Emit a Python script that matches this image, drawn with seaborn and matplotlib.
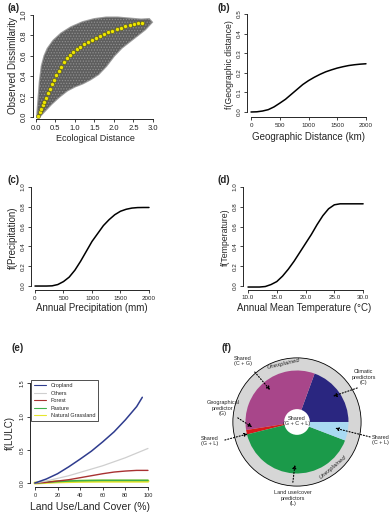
import numpy as np
import seaborn as sns
import matplotlib.pyplot as plt
from matplotlib.patches import Circle

# ---- data ----
# (a) extent of the observed point cloud, and the fitted (yellow) points
cloud_up_x = [0.03, 0.06, 0.10, 0.15, 0.22, 0.30, 0.45, 0.65, 0.90, 1.20, 1.50, 1.80, 2.10, 2.40, 2.70, 2.90, 2.97]
cloud_up_y = [0.00, 0.15, 0.35, 0.50, 0.60, 0.67, 0.75, 0.82, 0.88, 0.93, 0.96, 0.975, 0.975, 0.965, 0.955, 0.96, 0.93]
cloud_lo_x = [0.03, 0.08, 0.20, 0.40, 0.60, 0.80, 1.00, 1.20, 1.40, 1.60, 1.80, 2.00, 2.20, 2.40, 2.60, 2.80, 2.97]
cloud_lo_y = [0.00, 0.00, 0.05, 0.13, 0.20, 0.26, 0.30, 0.33, 0.37, 0.42, 0.50, 0.60, 0.68, 0.74, 0.80, 0.86, 0.93]
fit_x = [0.05, 0.09, 0.13, 0.17, 0.21, 0.25, 0.30, 0.35, 0.40, 0.46, 0.52, 0.58, 0.65, 0.72, 0.80, 0.88, 0.96,
         1.05, 1.14, 1.23, 1.33, 1.43, 1.53, 1.63, 1.74, 1.85, 1.96, 2.07, 2.18, 2.29, 2.40, 2.51, 2.62, 2.72]
fit_y = [0.01, 0.045, 0.08, 0.115, 0.15, 0.19, 0.235, 0.275, 0.32, 0.365, 0.41, 0.45, 0.495, 0.535, 0.575, 0.605, 0.635,
         0.665, 0.69, 0.715, 0.735, 0.755, 0.775, 0.795, 0.815, 0.83, 0.845, 0.86, 0.875, 0.89, 0.90, 0.91, 0.918, 0.925]

# (b) geographic distance
geo_km = list(range(0, 2001, 100))
geo_f = [0.000, 0.001, 0.005, 0.012, 0.026, 0.045, 0.065, 0.090, 0.115, 0.140, 0.160,
         0.177, 0.192, 0.205, 0.215, 0.224, 0.231, 0.237, 0.241, 0.244, 0.246]

# (c) precipitation
prec_mm = list(range(0, 2001, 100))
prec_f = [0.0, 0.0, 0.0, 0.002, 0.015, 0.045, 0.09, 0.16, 0.25, 0.35, 0.45,
          0.53, 0.61, 0.67, 0.72, 0.755, 0.775, 0.787, 0.792, 0.793, 0.793]

# (d) temperature
temp_c = list(range(10, 31))
temp_f = [-0.01, -0.01, -0.01, -0.005, 0.015, 0.045, 0.10, 0.17, 0.25, 0.34, 0.43,
          0.52, 0.62, 0.71, 0.78, 0.82, 0.83, 0.83, 0.83, 0.83, 0.83]

# (e) land use / land cover
lulc_pct = [0, 10, 20, 30, 40, 50, 60, 70, 80, 90, 100]
cropland_pct = [0, 10, 20, 30, 40, 50, 60, 70, 80, 90, 95]
cropland_f = [0.0, 0.06, 0.14, 0.245, 0.36, 0.48, 0.62, 0.77, 0.95, 1.15, 1.29]
others_f = [0.0, 0.03, 0.07, 0.11, 0.16, 0.21, 0.26, 0.32, 0.38, 0.45, 0.52]
forest_f = [0.0, 0.01, 0.03, 0.05, 0.08, 0.11, 0.14, 0.165, 0.18, 0.19, 0.19]
pasture_f = [0.0, 0.012, 0.022, 0.03, 0.035, 0.038, 0.04, 0.04, 0.04, 0.04, 0.04]
grass_f = [0.0, 0.01, 0.018, 0.022, 0.025, 0.027, 0.028, 0.028, 0.028, 0.028, 0.028]

# (f) variance partitioning (degrees of the circle)
part_names = ['Climatic', 'Shared C+G', 'Geographical', 'Land use/cover', 'Shared C+L']
part_deg = [70, 119, 5, 145, 21]
part_cols = ['#2a2680', '#a8468a', '#d7191c', '#1b9a4a', '#a9daf2']

sns.set_style('ticks')
plt.rcParams['font.family'] = ['Liberation Sans', 'DejaVu Sans']
plt.rcParams['hatch.linewidth'] = 0.6

W, H = 392, 518
fig = plt.figure(figsize=(W / 100, H / 100), dpi=100)


def add_ax(l, t, r, b):
    return fig.add_axes([l / W, 1 - b / H, (r - l) / W, (b - t) / H])


def r_axes(ax, xt, xl, yt, yl, size):
    sns.despine(ax=ax)
    ax.set_xticks(xt, xl)
    ax.set_yticks(yt, yl)
    ax.spines['bottom'].set_bounds(xt[0], xt[-1])
    ax.spines['left'].set_bounds(yt[0], yt[-1])
    for s in ('left', 'bottom'):
        ax.spines[s].set_linewidth(0.7)
    ax.tick_params(length=2.5, width=0.6, labelsize=size, pad=1.5, colors='#222222')
    ax.tick_params(axis='y', labelrotation=90)
    for lab in ax.get_yticklabels():
        lab.set_va('center')
    ax.grid(False)


# (a)
ax = add_ax(33, 12, 158, 119)
poly_x = cloud_up_x + cloud_lo_x[::-1]
poly_y = cloud_up_y + cloud_lo_y[::-1]
ax.fill(poly_x, poly_y, facecolor='#8c8c8c', edgecolor='#9c9c9c', lw=1.6)
ax.fill(poly_x, poly_y, facecolor='#5e5e5e', edgecolor='#8e8e8e', hatch='......', lw=0)
sns.scatterplot(x=fit_x, y=fit_y, ax=ax, color='#eee600', edgecolor='#4a4a00', s=8, linewidth=0.3, zorder=3)
ax.set_xlim(-0.077, 3.13)
ax.set_ylim(-0.02, 1.03)
r_axes(ax, [0, 0.5, 1, 1.5, 2, 2.5, 3], ['0.0', '0.5', '1.0', '1.5', '2.0', '2.5', '3.0'],
       [0, 0.2, 0.4, 0.6, 0.8, 1.0], ['0.0', '0.2', '0.4', '0.6', '0.8', '1.0'], 5.5)
ax.set_xlabel('Ecological Distance', fontsize=6.5, labelpad=2)
ax.set_ylabel('Observed Dissimilarity', fontsize=7, labelpad=2)

# (b)
ax = add_ax(247, 12, 370, 117)
sns.lineplot(x=geo_km, y=geo_f, ax=ax, color='black', lw=1.1)
ax.set_xlim(-70, 2070)
ax.set_ylim(-0.0255, 0.51)
r_axes(ax, [0, 500, 1000, 1500, 2000], ['0', '500', '1000', '1500', '2000'],
       [0, 0.1, 0.2, 0.3, 0.4, 0.5], ['0.0', '0.1', '0.2', '0.3', '0.4', '0.5'], 4.5)
ax.set_xlabel('Geographic Distance (km)', fontsize=7, labelpad=3)
ax.set_ylabel('f(Geographic distance)', fontsize=6.3, labelpad=2)

# (c)
ax = add_ax(31, 185, 152, 290)
sns.lineplot(x=prec_mm, y=prec_f, ax=ax, color='black', lw=1.1)
ax.set_xlim(-70, 2053)
ax.set_ylim(-0.04, 1.02)
r_axes(ax, [0, 500, 1000, 1500, 2000], ['0', '500', '1000', '1500', '2000'],
       [0, 0.2, 0.4, 0.6, 0.8, 1.0], ['0.0', '0.2', '0.4', '0.6', '0.8', '1.0'], 4.5)
ax.set_xlabel('Annual Precipitation (mm)', fontsize=7, labelpad=2)
ax.set_ylabel('f(Precipitation)', fontsize=7, labelpad=2)

# (d)
ax = add_ax(243, 185, 366, 289.5)
sns.lineplot(x=temp_c, y=temp_f, ax=ax, color='black', lw=1.1)
ax.set_xlim(9.13, 30.5)
ax.set_ylim(-0.035, 1.02)
r_axes(ax, [10, 15, 20, 25, 30], ['10.0', '15.0', '20.0', '25.0', '30.0'],
       [0, 0.2, 0.4, 0.6, 0.8, 1.0], ['0.0', '0.2', '0.4', '0.6', '0.8', '1.0'], 4.5)
ax.set_xlabel('Annual Mean Temperature (°C)', fontsize=7, labelpad=2)
ax.set_ylabel('f(Temperature)', fontsize=6.3, labelpad=2)

# (e)
ax = add_ax(30, 378, 150, 487)
sns.lineplot(x=lulc_pct, y=grass_f, ax=ax, color='#e6e62e', lw=2.2, label='Natural Grassland')
sns.lineplot(x=lulc_pct, y=pasture_f, ax=ax, color='#3db04a', lw=1.2, label='Pasture')
sns.lineplot(x=lulc_pct, y=forest_f, ax=ax, color='#a83232', lw=1.0, label='Forest')
sns.lineplot(x=lulc_pct, y=others_f, ax=ax, color='#cfcfcf', lw=0.9, label='Others')
sns.lineplot(x=cropland_pct, y=cropland_f, ax=ax, color='#2f3c8e', lw=1.1, label='Cropland')
ax.set_xlim(-4.4, 101.8)
ax.set_ylim(-0.06, 1.58)
r_axes(ax, [0, 20, 40, 60, 80, 100], ['0', '20', '40', '60', '80', '100'],
       [0, 0.5, 1.0, 1.5], ['0.0', '0.5', '1.0', '1.5'], 4)
ax.set_xlabel('Land Use/Land Cover (%)', fontsize=7.5, labelpad=3)
ax.set_ylabel('f(LULC)', fontsize=7, labelpad=3)
h, l = ax.get_legend_handles_labels()
leg = ax.legend(h[::-1], l[::-1], loc='upper left', bbox_to_anchor=(0.008, 0.98), borderaxespad=0,
                fontsize=4.0, frameon=True, fancybox=False, edgecolor='black', handlelength=2.2,
                labelspacing=0.45, borderpad=0.55, handletextpad=0.8)
leg.get_frame().set_linewidth(0.6)
for line in leg.get_lines():
    line.set_linewidth(0.8)

# (f)
ax = add_ax(200, 345, 392, 510)
ax.add_patch(Circle((0, 0), 1.245, facecolor='#d6d6d6', edgecolor='black', lw=0.6))
ax.pie(part_deg, colors=part_cols, startangle=0, counterclock=True, radius=1,
       wedgeprops=dict(linewidth=0))
ax.add_patch(Circle((0, 0), 0.25, facecolor='white', edgecolor='none', zorder=5))
ax.set_xlim(-1.883, 1.845)
ax.set_ylim(-1.709, 1.495)
ax.axis('off')

fs = 4
ax.text(0, 0.02, 'Shared\n(G + C + L)', ha='center', va='center', fontsize=fs, zorder=6, linespacing=1.1)
ax.text(-0.27, 1.13, 'Unexplained', ha='center', va='center', fontsize=fs + 0.3, style='italic', rotation=13)
ax.text(0.70, -0.88, 'Unexplained', ha='center', va='center', fontsize=fs + 0.3, style='italic', rotation=40)
labels_f = [
    ('Shared\n(C + G)', (-1.05, 1.18), (-0.82, 0.97), (-0.52, 0.62)),
    ('Climatic\npredictors\n(C)', (1.30, 0.87), (1.17, 0.66), (0.70, 0.50)),
    ('Geographical\npredictor\n(G)', (-1.44, 0.27), (-1.15, 0.08), (-0.87, -0.10)),
    ('Shared\n(G + L)', (-1.69, -0.37), (-1.40, -0.35), (-0.95, -0.23)),
    ('Shared\n(C + L)', (1.62, -0.35), (1.42, -0.29), (0.74, -0.12)),
    ('Land use/cover\npredictors\n(L)', (-0.08, -1.48), (-0.08, -1.17), (-0.04, -0.83)),
]
for txt, pos, tail, head in labels_f:
    ax.text(pos[0], pos[1], txt, ha='center', va='center', fontsize=fs, linespacing=1.1)
    ax.annotate('', xy=head, xytext=tail,
                arrowprops=dict(arrowstyle='-|>', linestyle=':', lw=0.8, color='black',
                                mutation_scale=5, shrinkA=0, shrinkB=0))

# panel letters
for letter, (px, py) in zip('abcdef', [(7, 3), (218, 3), (7, 175), (218, 175), (12, 343), (222, 343)]):
    fig.text(px / W, 1 - py / H, f'({letter})', fontsize=7, fontweight='bold', va='top', ha='left')

fig.savefig('out.png', dpi=100)
